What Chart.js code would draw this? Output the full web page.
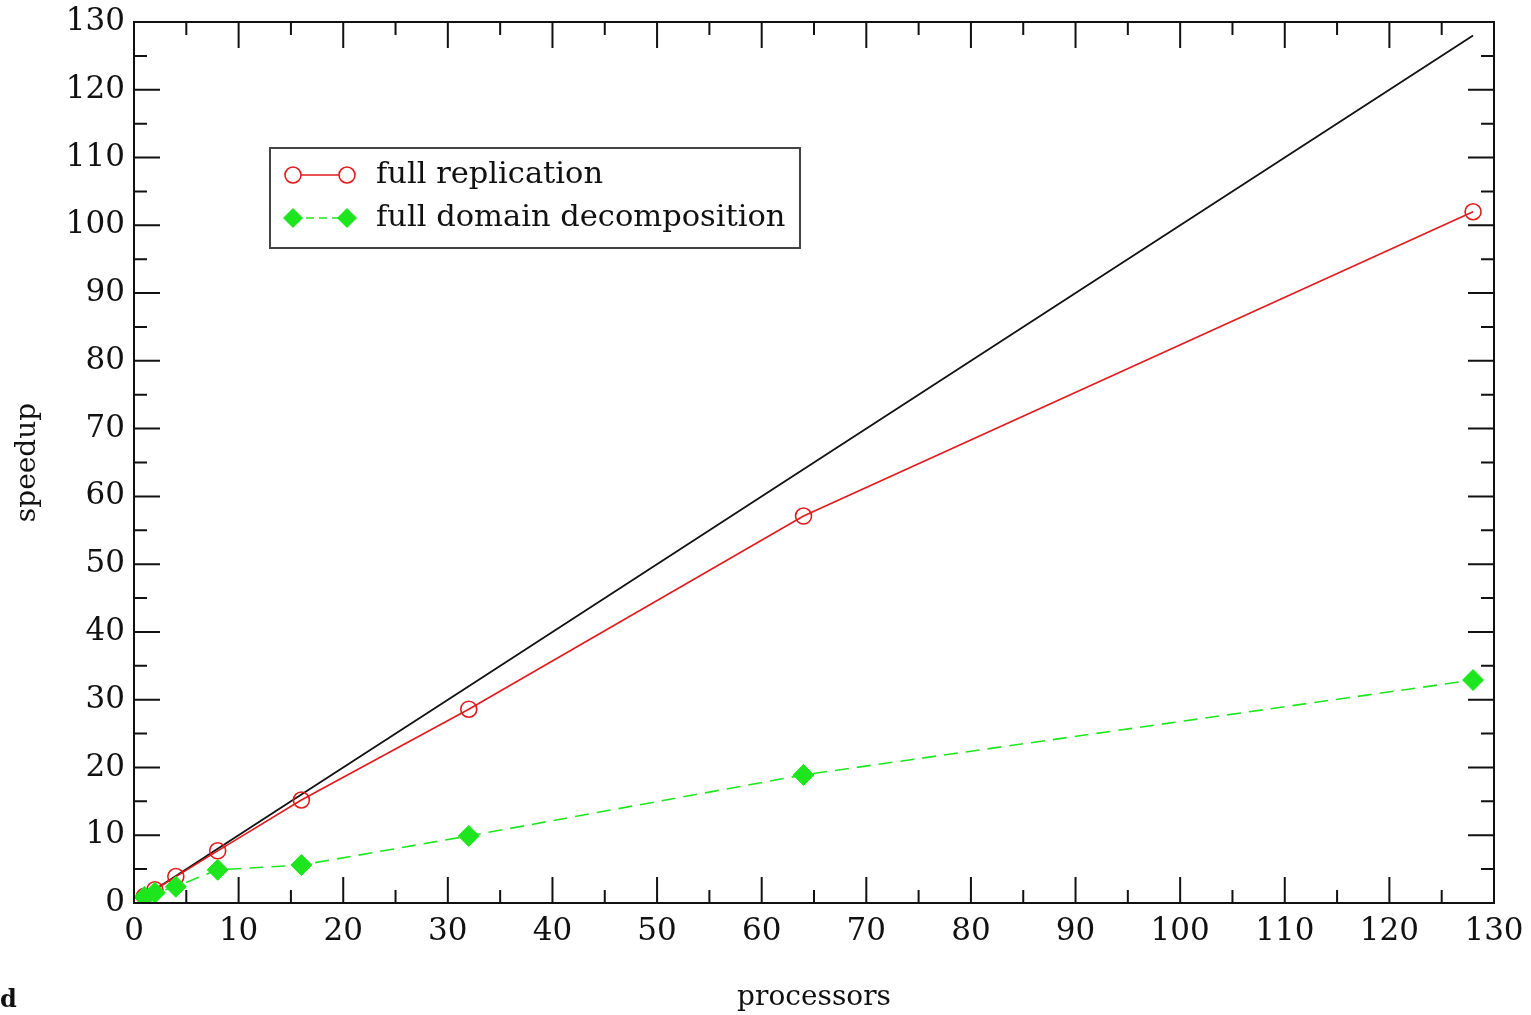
<!DOCTYPE html>
<html>
<head>
<meta charset="utf-8">
<title>speedup vs processors</title>
<script src="https://cdn.jsdelivr.net/npm/chart.js@4"></script>
<style>
    html, body { margin: 0; padding: 0; background: #fff; }
    #wrap { position: relative; width: 1531px; height: 1015px; }
    #stray { position: absolute; left: 0; top: 984px; font: bold 24px "DejaVu Serif", serif; color: #111; }
</style>
</head>
<body>
<div id="wrap">
    <canvas id="speedupChart" width="1531" height="1015"></canvas>
    <span id="stray">d</span>
</div>
<script>
// ---------- Data ----------
var processors = [1, 2, 4, 8, 16, 32, 64, 128];
var idealSpeedup = [1, 2, 4, 8, 16, 32, 64, 128];
var fullReplication = [1.0, 1.95, 3.9, 7.7, 15.2, 28.6, 57.1, 102.0];
var fullDomainDecomposition = [0.9, 1.5, 2.4, 4.9, 5.6, 9.9, 18.9, 32.9];
var legendLabels = ["full replication", "full domain decomposition"];
var axisMin = 0, axisMax = 130, majorStep = 10, minorStep = 5;

(function () {
    "use strict";

    var RED = "#e31a1c";
    var GREEN = "#1ee61e";
    var FONT = "DejaVu Serif";

    function pairs(xs, ys) {
        return xs.map(function (x, i) { return { x: x, y: ys[i] }; });
    }

    // ---------- Frame with inward ticks on all four sides + legend ----------
    var framePlugin = {
        id: "frame",
        afterDraw: function (chart) {
            var ctx = chart.ctx;
            var a = chart.chartArea;
            var xs = chart.scales.x, ys = chart.scales.y;
            ctx.save();
            ctx.strokeStyle = "#111";
            ctx.lineWidth = 2;
            ctx.strokeRect(a.left, a.top, a.right - a.left, a.bottom - a.top);

            ctx.beginPath();
            for (var v = axisMin; v <= axisMax; v += minorStep) {
                var len = (v % majorStep === 0) ? 26 : 13;
                if (v === axisMin || v === axisMax) continue;
                var px = xs.getPixelForValue(v);
                ctx.moveTo(px, a.bottom); ctx.lineTo(px, a.bottom - len);
                ctx.moveTo(px, a.top); ctx.lineTo(px, a.top + len);
                var py = ys.getPixelForValue(v);
                ctx.moveTo(a.left, py); ctx.lineTo(a.left + len, py);
                ctx.moveTo(a.right, py); ctx.lineTo(a.right - len, py);
            }
            ctx.stroke();

            // legend box
            var bx = 270, by = 148, bw = 530, bh = 100;
            ctx.fillStyle = "#fff";
            ctx.fillRect(bx, by, bw, bh);
            ctx.strokeStyle = "#444";
            ctx.lineWidth = 2;
            ctx.strokeRect(bx, by, bw, bh);

            var rowY = [175, 218];
            // red sample
            ctx.strokeStyle = RED;
            ctx.lineWidth = 1.6;
            ctx.beginPath();
            ctx.moveTo(301, rowY[0]); ctx.lineTo(339, rowY[0]);
            ctx.stroke();
            [293, 347].forEach(function (cx) {
                ctx.beginPath();
                ctx.arc(cx, rowY[0], 8, 0, Math.PI * 2);
                ctx.stroke();
            });
            // green sample
            ctx.strokeStyle = GREEN;
            ctx.setLineDash([8, 5]);
            ctx.beginPath();
            ctx.moveTo(293, rowY[1]); ctx.lineTo(347, rowY[1]);
            ctx.stroke();
            ctx.setLineDash([]);
            ctx.fillStyle = GREEN;
            [293, 347].forEach(function (cx) {
                ctx.beginPath();
                ctx.moveTo(cx, rowY[1] - 10); ctx.lineTo(cx + 10, rowY[1]);
                ctx.lineTo(cx, rowY[1] + 10); ctx.lineTo(cx - 10, rowY[1]);
                ctx.closePath();
                ctx.fill();
            });
            // legend text
            ctx.fillStyle = "#111";
            ctx.font = "30.5px '" + FONT + "'";
            ctx.textBaseline = "middle";
            ctx.textAlign = "left";
            ctx.fillText(legendLabels[0], 376, rowY[0]);
            ctx.fillText(legendLabels[1], 376, rowY[1]);
            ctx.restore();
        }
    };

    var canvas = document.getElementById("speedupChart");
    new Chart(canvas.getContext("2d"), {
        type: "line",
        data: {
            datasets: [
                {
                    label: legendLabels[1],
                    data: pairs(processors, fullDomainDecomposition),
                    borderColor: GREEN,
                    backgroundColor: GREEN,
                    borderWidth: 1.6,
                    borderDash: [14, 8],
                    pointStyle: "rectRot",
                    pointRadius: 10.5,
                    pointBorderWidth: 1,
                    tension: 0
                },
                {
                    label: legendLabels[0],
                    data: pairs(processors, fullReplication),
                    borderColor: RED,
                    backgroundColor: "rgba(255,255,255,0)",
                    borderWidth: 1.6,
                    pointStyle: "circle",
                    pointRadius: 8,
                    pointBorderWidth: 1.6,
                    tension: 0
                },
                {
                    label: "ideal",
                    data: pairs(processors, idealSpeedup),
                    borderColor: "#111",
                    borderWidth: 1.8,
                    pointRadius: 0,
                    tension: 0
                }
            ]
        },
        options: {
            responsive: false,
            animation: false,
            layout: { padding: { top: 22, right: 37, left: 0, bottom: 0 } },
            plugins: {
                legend: { display: false },
                tooltip: { enabled: false }
            },
            scales: {
                x: {
                    type: "linear",
                    min: axisMin,
                    max: axisMax,
                    afterFit: function (s) { s.height = 112; s.paddingLeft = 0; s.paddingRight = 0; },
                    ticks: { stepSize: majorStep, color: "#111", padding: 10, font: { family: FONT, size: 31 } },
                    grid: { display: false, drawTicks: false },
                    border: { display: false },
                    title: { display: true, text: "processors", color: "#111", padding: { top: 0, bottom: 0 }, font: { family: FONT, size: 28 } }
                },
                y: {
                    type: "linear",
                    min: axisMin,
                    max: axisMax,
                    afterFit: function (s) { s.width = 134; s.paddingTop = 0; s.paddingBottom = 0; },
                    ticks: { stepSize: majorStep, color: "#111", padding: 9, font: { family: FONT, size: 31 } },
                    grid: { display: false, drawTicks: false },
                    border: { display: false },
                    title: { display: true, text: "speedup", color: "#111", padding: { top: 11, bottom: 0 }, font: { family: FONT, size: 28 } }
                }
            }
        },
        plugins: [framePlugin]
    });
})();
</script>
</body>
</html>
